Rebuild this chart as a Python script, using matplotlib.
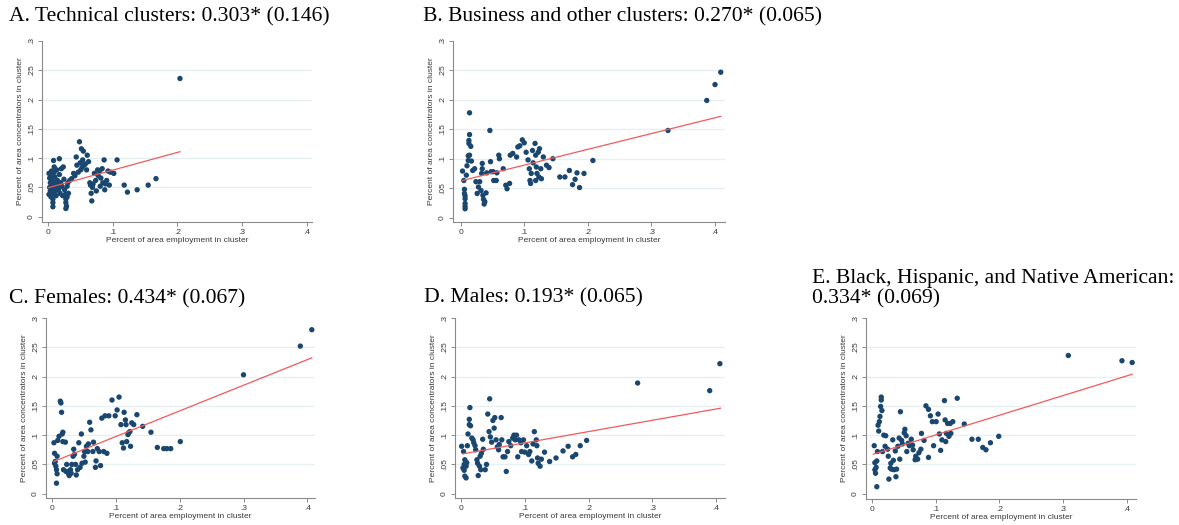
import matplotlib
matplotlib.use("Agg")
import matplotlib.pyplot as plt
import numpy as np

W, H = 1179, 525

# ---- data ----
a_x = [0.002, 0.003, 0.004, 0.003, 0.004, 0.002, 0.005, 0.006, 0.006, 0.007, 0.007, 0.007, 0.008, 0.008,
       0.008, 0.008, 0.009, 0.010, 0.010, 0.011, 0.011, 0.012, 0.012, 0.013, 0.014, 0.015, 0.016, 0.017,
       0.018, 0.018, 0.019, 0.020, 0.021, 0.022, 0.023, 0.024, 0.025, 0.026, 0.027, 0.028, 0.028, 0.029,
       0.028, 0.030, 0.030, 0.031, 0.032, 0.034, 0.037, 0.040, 0.042, 0.044, 0.045, 0.047, 0.049, 0.050,
       0.051, 0.052, 0.053, 0.054, 0.055, 0.056, 0.058, 0.060, 0.061, 0.063, 0.065, 0.066, 0.067, 0.068,
       0.069, 0.070, 0.072, 0.074, 0.075, 0.077, 0.078, 0.080, 0.081, 0.082, 0.084, 0.085, 0.087, 0.088,
       0.089, 0.091, 0.093, 0.095, 0.097, 0.102, 0.107, 0.118, 0.123, 0.138, 0.155, 0.167, 0.204]
a_y = [0.074, 0.066, 0.058, 0.050, 0.044, 0.038, 0.034, 0.078, 0.070, 0.062, 0.054, 0.046, 0.040, 0.030,
       0.024, 0.017, 0.096, 0.085, 0.076, 0.068, 0.058, 0.050, 0.044, 0.036, 0.080, 0.062, 0.054, 0.047,
       0.099, 0.072, 0.040, 0.058, 0.082, 0.052, 0.036, 0.085, 0.064, 0.046, 0.038, 0.030, 0.024, 0.018,
       0.014, 0.034, 0.052, 0.058, 0.040, 0.062, 0.065, 0.074, 0.070, 0.102, 0.088, 0.076, 0.128, 0.092,
       0.080, 0.116, 0.084, 0.097, 0.112, 0.088, 0.090, 0.080, 0.105, 0.094, 0.058, 0.054, 0.040, 0.027,
       0.050, 0.056, 0.074, 0.062, 0.044, 0.080, 0.070, 0.078, 0.052, 0.066, 0.082, 0.058, 0.097, 0.046,
       0.056, 0.062, 0.078, 0.054, 0.076, 0.074, 0.097, 0.054, 0.042, 0.046, 0.054, 0.065, 0.236]
a_fit = [(0.001, 0.0495), (0.204, 0.111)]

b_x = [0.003, 0.005, 0.006, 0.006, 0.007, 0.007, 0.007, 0.007, 0.007, 0.009, 0.010, 0.012, 0.012, 0.014,
       0.013, 0.013, 0.014, 0.014, 0.016, 0.017, 0.019, 0.022, 0.024, 0.026, 0.028, 0.030, 0.032, 0.033,
       0.034, 0.034, 0.035, 0.036, 0.037, 0.038, 0.040, 0.041, 0.046, 0.047, 0.048, 0.051, 0.052, 0.056,
       0.057, 0.060, 0.061, 0.067, 0.071, 0.073, 0.077, 0.078, 0.082, 0.088, 0.090, 0.093, 0.097, 0.100,
       0.103, 0.106, 0.108, 0.109, 0.110, 0.111, 0.113, 0.114, 0.117, 0.118, 0.118, 0.119, 0.120, 0.122,
       0.123, 0.124, 0.126, 0.127, 0.130, 0.135, 0.139, 0.145, 0.156, 0.164, 0.171, 0.176, 0.180, 0.183,
       0.187, 0.194, 0.208, 0.326, 0.387, 0.400, 0.409]
b_y = [0.079, 0.063, 0.048, 0.041, 0.037, 0.032, 0.024, 0.019, 0.015, 0.072, 0.088, 0.097, 0.105, 0.106,
       0.126, 0.131, 0.141, 0.178, 0.121, 0.096, 0.080, 0.083, 0.061, 0.041, 0.052, 0.061, 0.046, 0.075,
       0.092, 0.083, 0.038, 0.031, 0.023, 0.027, 0.042, 0.076, 0.148, 0.095, 0.078, 0.078, 0.063, 0.063,
       0.076, 0.106, 0.100, 0.083, 0.055, 0.049, 0.058, 0.106, 0.109, 0.103, 0.120, 0.122, 0.132, 0.127,
       0.111, 0.098, 0.083, 0.063, 0.058, 0.075, 0.114, 0.093, 0.126, 0.106, 0.063, 0.086, 0.075, 0.111,
       0.069, 0.117, 0.083, 0.066, 0.103, 0.089, 0.085, 0.100, 0.069, 0.069, 0.080, 0.056, 0.065, 0.076,
       0.051, 0.075, 0.097, 0.148, 0.199, 0.226, 0.247]
b_fit = [(0.0026, 0.063), (0.409, 0.172)]

c_x = [0.003, 0.004, 0.005, 0.004, 0.006, 0.007, 0.008, 0.007, 0.008, 0.009, 0.011, 0.013, 0.014, 0.015,
       0.016, 0.017, 0.017, 0.018, 0.021, 0.022, 0.023, 0.025, 0.026, 0.027, 0.029, 0.030, 0.031, 0.033,
       0.034, 0.035, 0.037, 0.038, 0.040, 0.042, 0.044, 0.046, 0.047, 0.050, 0.051, 0.052, 0.054, 0.056,
       0.057, 0.059, 0.061, 0.064, 0.065, 0.068, 0.069, 0.071, 0.074, 0.076, 0.078, 0.081, 0.083, 0.086,
       0.089, 0.094, 0.099, 0.102, 0.105, 0.108, 0.110, 0.112, 0.113, 0.115, 0.116, 0.117, 0.119, 0.120,
       0.122, 0.123, 0.125, 0.128, 0.133, 0.142, 0.155, 0.165, 0.175, 0.180, 0.186, 0.201, 0.300, 0.389,
       0.407]
c_y = [0.087, 0.069, 0.055, 0.052, 0.047, 0.041, 0.034, 0.018, 0.064, 0.091, 0.098, 0.158, 0.155, 0.139,
       0.102, 0.105, 0.089, 0.041, 0.088, 0.038, 0.050, 0.038, 0.034, 0.031, 0.041, 0.035, 0.050, 0.064,
       0.076, 0.067, 0.050, 0.032, 0.041, 0.087, 0.045, 0.102, 0.052, 0.064, 0.072, 0.054, 0.081, 0.072,
       0.085, 0.122, 0.109, 0.072, 0.088, 0.045, 0.056, 0.077, 0.072, 0.048, 0.129, 0.072, 0.133, 0.069,
       0.133, 0.160, 0.133, 0.143, 0.165, 0.118, 0.087, 0.078, 0.139, 0.126, 0.118, 0.089, 0.101, 0.104,
       0.106, 0.081, 0.121, 0.118, 0.135, 0.115, 0.105, 0.079, 0.077, 0.077, 0.077, 0.089, 0.203, 0.252,
       0.280]
c_fit = [(0.0026, 0.055), (0.407, 0.232)]

d_x = [0.001, 0.004, 0.003, 0.005, 0.005, 0.006, 0.006, 0.008, 0.008, 0.009, 0.010, 0.011, 0.013, 0.013,
       0.014, 0.015, 0.017, 0.019, 0.020, 0.022, 0.023, 0.025, 0.026, 0.027, 0.029, 0.030, 0.031, 0.032,
       0.034, 0.035, 0.038, 0.040, 0.042, 0.044, 0.045, 0.046, 0.048, 0.050, 0.052, 0.053, 0.055, 0.057,
       0.059, 0.060, 0.063, 0.064, 0.066, 0.069, 0.071, 0.073, 0.075, 0.078, 0.081, 0.083, 0.085, 0.087,
       0.089, 0.091, 0.094, 0.095, 0.098, 0.100, 0.103, 0.106, 0.108, 0.111, 0.113, 0.115, 0.118, 0.119,
       0.120, 0.121, 0.124, 0.126, 0.131, 0.139, 0.149, 0.160, 0.168, 0.175, 0.180, 0.187, 0.197, 0.277,
       0.390, 0.406]
d_y = [0.081, 0.072, 0.044, 0.050, 0.040, 0.058, 0.030, 0.027, 0.047, 0.053, 0.082, 0.102, 0.118, 0.127,
       0.147, 0.116, 0.095, 0.092, 0.087, 0.082, 0.075, 0.058, 0.052, 0.031, 0.047, 0.064, 0.041, 0.069,
       0.093, 0.076, 0.041, 0.050, 0.136, 0.106, 0.162, 0.097, 0.088, 0.125, 0.112, 0.130, 0.092, 0.080,
       0.075, 0.084, 0.130, 0.092, 0.063, 0.063, 0.038, 0.072, 0.089, 0.082, 0.095, 0.100, 0.092, 0.100,
       0.063, 0.092, 0.087, 0.072, 0.092, 0.071, 0.082, 0.067, 0.072, 0.056, 0.085, 0.106, 0.092, 0.082,
       0.061, 0.052, 0.047, 0.059, 0.071, 0.055, 0.061, 0.073, 0.081, 0.063, 0.067, 0.082, 0.091, 0.189,
       0.176, 0.222]
d_fit = [(0.0026, 0.068), (0.407, 0.146)]

e_x = [0.004, 0.005, 0.005, 0.006, 0.007, 0.008, 0.008, 0.009, 0.010, 0.011, 0.012, 0.013, 0.014, 0.015,
       0.015, 0.016, 0.017, 0.019, 0.021, 0.022, 0.025, 0.026, 0.027, 0.029, 0.030, 0.031, 0.033, 0.034,
       0.035, 0.037, 0.038, 0.039, 0.041, 0.043, 0.044, 0.045, 0.047, 0.048, 0.051, 0.052, 0.054, 0.055,
       0.057, 0.059, 0.062, 0.064, 0.065, 0.068, 0.069, 0.072, 0.074, 0.077, 0.078, 0.082, 0.085, 0.089,
       0.089, 0.092, 0.095, 0.097, 0.101, 0.104, 0.106, 0.108, 0.110, 0.114, 0.115, 0.116, 0.117, 0.119,
       0.121, 0.123, 0.124, 0.127, 0.134, 0.145, 0.157, 0.167, 0.174, 0.179, 0.186, 0.199, 0.308, 0.392,
       0.408]
e_y = [0.082, 0.053, 0.041, 0.035, 0.045, 0.056, 0.012, 0.072, 0.117, 0.107, 0.123, 0.132, 0.149, 0.160,
       0.165, 0.142, 0.072, 0.100, 0.081, 0.099, 0.076, 0.064, 0.025, 0.044, 0.052, 0.042, 0.092, 0.057,
       0.041, 0.073, 0.029, 0.042, 0.081, 0.095, 0.059, 0.140, 0.091, 0.085, 0.104, 0.110, 0.099, 0.072,
       0.086, 0.082, 0.093, 0.083, 0.075, 0.058, 0.064, 0.059, 0.070, 0.076, 0.103, 0.091, 0.150, 0.144,
       0.062, 0.133, 0.123, 0.082, 0.123, 0.136, 0.102, 0.074, 0.092, 0.159, 0.126, 0.089, 0.103, 0.120,
       0.098, 0.120, 0.103, 0.123, 0.163, 0.119, 0.093, 0.093, 0.079, 0.075, 0.087, 0.098, 0.236, 0.227,
       0.224]
e_fit = [(0.0026, 0.0675), (0.408, 0.204)]

titles = ["A. Technical clusters: 0.303* (0.146)",
          "B. Business and other clusters: 0.270* (0.065)",
          "C. Females: 0.434* (0.067)",
          "D. Males: 0.193* (0.065)",
          "E. Black, Hispanic, and Native American:\n0.334* (0.069)"]

x_ticks = [0, 0.1, 0.2, 0.3, 0.4]
x_labels = ["0", ".1", ".2", ".3", ".4"]
y_ticks = [0, 0.05, 0.1, 0.15, 0.2, 0.25, 0.3]
y_labels = ["0", ".05", ".1", ".15", ".2", ".25", ".3"]

# panel boxes in pixels: left, top, right, bottom ; and limits
panels = [
    dict(x=a_x, y=a_y, fit=a_fit, box=(42, 41, 312, 222), xlim=(-0.0088, 0.4077), ylim=(-0.009, 0.3),
         title_xy=(9, 21)),
    dict(x=b_x, y=b_y, fit=b_fit, box=(453, 41, 725, 222), xlim=(-0.012, 0.4157), ylim=(-0.0075, 0.3),
         title_xy=(423, 21)),
    dict(x=c_x, y=c_y, fit=c_fit, box=(46, 318, 315, 498), xlim=(-0.0094, 0.412), ylim=(-0.0073, 0.3),
         title_xy=(9, 303)),
    dict(x=d_x, y=d_y, fit=d_fit, box=(455, 318, 725, 498), xlim=(-0.0094, 0.414), ylim=(-0.0073, 0.3),
         title_xy=(424, 302)),
    dict(x=e_x, y=e_y, fit=e_fit, box=(866, 318, 1136, 499), xlim=(-0.0089, 0.414), ylim=(-0.009, 0.3),
         title_xy=(812, 303)),
]

navy = "#1a476f"
axis_col = "#8a8a8a"
text_col = "#3a3a3a"

fig = plt.figure(figsize=(W / 100, H / 100), dpi=100)
fig.patch.set_facecolor("white")

for i, p in enumerate(panels):
    l, t, r, b = p["box"]
    ax = fig.add_axes([l / W, 1 - b / H, (r - l) / W, (b - t) / H])
    ax.set_xlim(*p["xlim"])
    ax.set_ylim(*p["ylim"])
    for yv in y_ticks[1:-1]:
        ax.axhline(yv, color="#e6eff1", lw=0.9, zorder=0)
    ax.scatter(p["x"], p["y"], s=15, color=navy, edgecolors="none", zorder=3)
    fx, fy = zip(*p["fit"])
    ax.plot(fx, fy, color="#f25a5a", lw=0.9, zorder=4)

    for side in ("top", "right"):
        ax.spines[side].set_visible(False)
    for side in ("left", "bottom"):
        ax.spines[side].set_color(axis_col)
        ax.spines[side].set_linewidth(0.8)
    ax.spines["left"].set_bounds(p["ylim"][0], 0.3)

    ax.set_xticks(x_ticks)
    ax.set_xticklabels(x_labels, family="Liberation Sans")
    ax.set_yticks(y_ticks)
    ax.set_yticklabels(y_labels, rotation=90, va="center", family="Liberation Sans")
    ax.tick_params(axis="both", length=3, width=0.7, color=axis_col, labelsize=6,
                   labelcolor=text_col, pad=2)
    ax.set_xlabel("Percent of area employment in cluster", fontsize=6, color=text_col,
                  labelpad=1, family="Liberation Sans")
    ax.set_ylabel("Percent of area concentrators in cluster", fontsize=6, color=text_col,
                  labelpad=3, family="Liberation Sans")
    ax.patch.set_alpha(0)

    tx, ty = p["title_xy"]
    fig.text(tx / W, 1 - ty / H, titles[i], family="Liberation Serif", fontsize=15.6,
             color="black", ha="left", va="baseline", linespacing=1.08)

fig.savefig("out.png", dpi=100)
